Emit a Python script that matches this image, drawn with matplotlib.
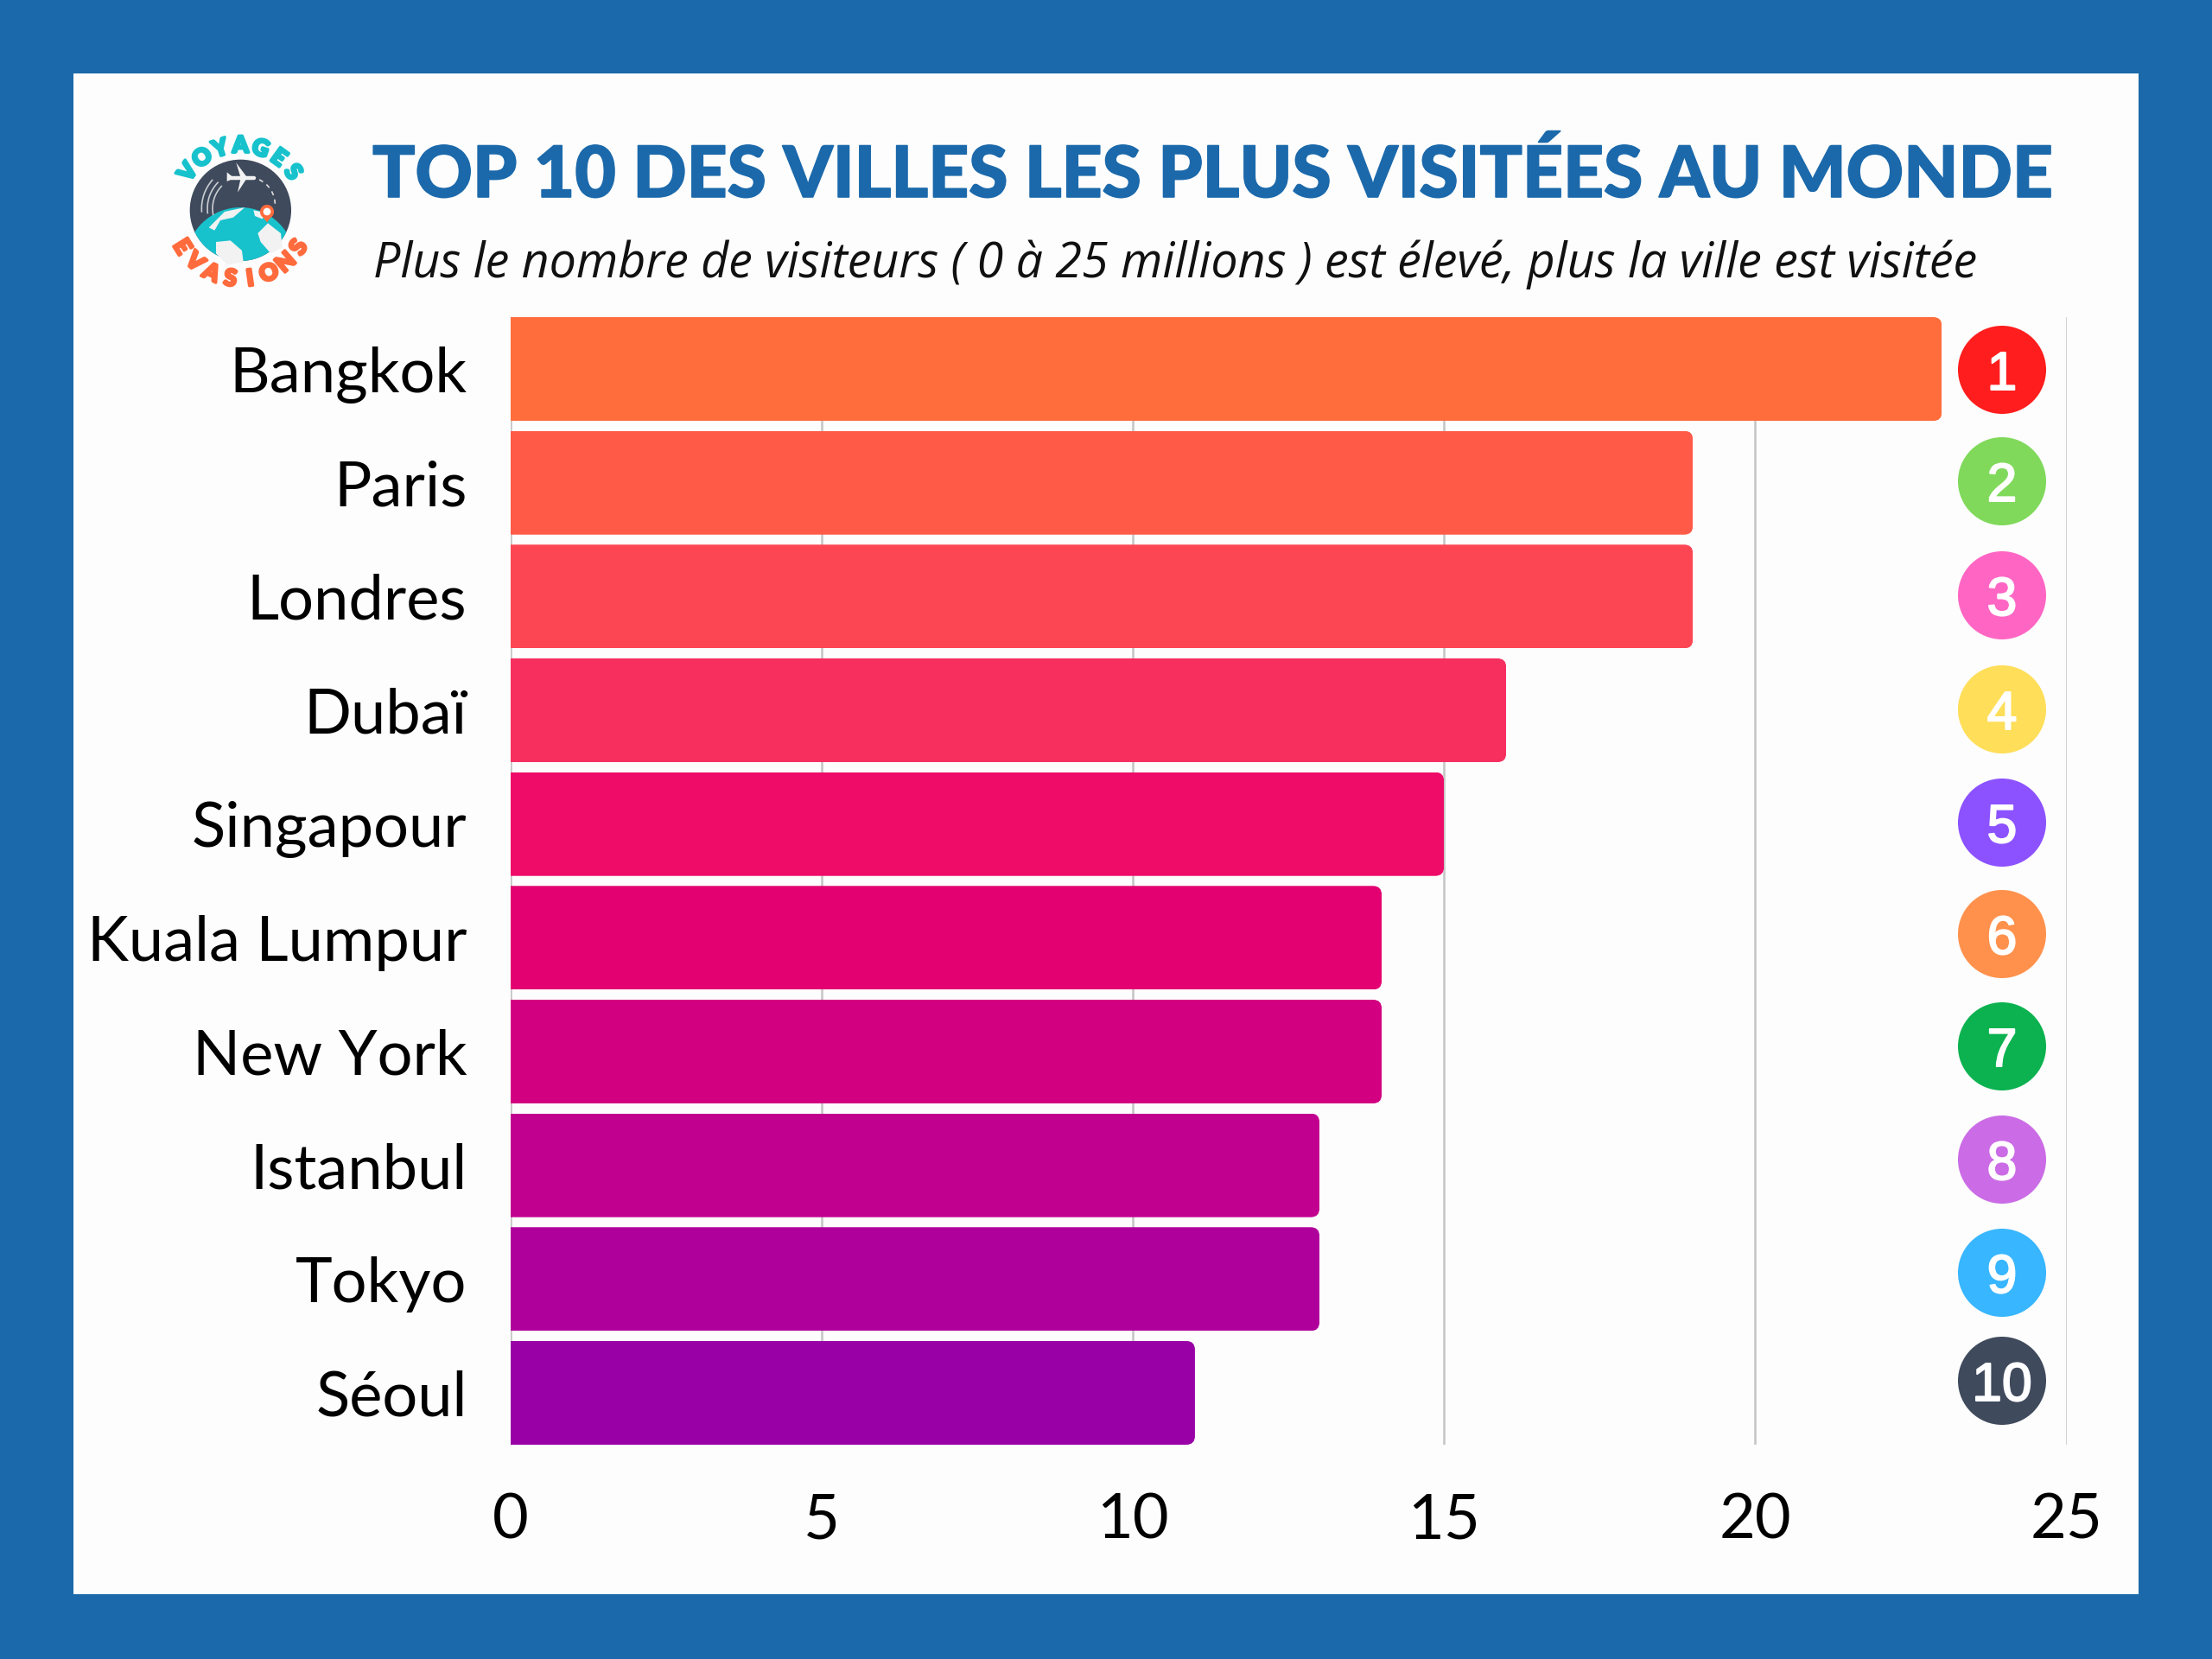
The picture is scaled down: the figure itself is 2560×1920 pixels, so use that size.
# Top 10 des villes les plus visitees
import math

import matplotlib
matplotlib.use("Agg")
import matplotlib.pyplot as plt
import matplotlib.patheffects as pe
from matplotlib.patches import Rectangle, Circle, Polygon, FancyBboxPatch, Arc, Wedge

W, H = 2560, 1920

cities = ["Bangkok", "Paris", "Londres", "Dubaï", "Singapour", "Kuala Lumpur",
          "New York", "Istanbul", "Tokyo", "Séoul"]
visitors = [23, 19, 19, 16, 15, 14, 14, 13, 13, 11]
bar_colors = ["#FF6D3D", "#FF5A48", "#FC4654", "#F72F5F", "#EF0B68",
              "#E30070", "#D20081", "#C2008F", "#B0009B", "#9900A6"]
x_ticks = [0, 5, 10, 15, 20, 25]
ranks = ["1", "2", "3", "4", "5", "6", "7", "8", "9", "10"]
rank_colors = ["#FF1D1D", "#80D95B", "#FF66C4", "#FFDE59", "#8C52FF",
               "#FF914D", "#0BB24F", "#CB6CE6", "#38B6FF", "#3F4A5C"]
rank_y = [428, 557, 689, 821, 952, 1081, 1211, 1342, 1473, 1598]

BLUE = "#1B69AB"
TEAL = "#17C2CC"
ORANGE = "#FF6B3D"
DARK = "#3F4A5C"

plt.rcParams["font.family"] = "Lato"

fig = plt.figure(figsize=(12.8, 9.6), dpi=200, facecolor=BLUE)
fig.add_artist(Rectangle((85 / W, 1 - 1845 / H), 2390 / W, 1760 / H, transform=fig.transFigure,
                         facecolor="#FDFDFD", edgecolor="none", zorder=-1))

# ------------------------------
# Bars
# ------------------------------
ax = fig.add_axes([590.5 / W, 1 - 1672 / H, 1801 / W, 1305 / H], facecolor="none")
bars = ax.barh(range(len(cities)), visitors, height=0.912, color=bar_colors, zorder=2)
for bar in bars:
    # rounded right corners only, the left part of the clip box sticks out
    clip = FancyBboxPatch((-1, bar.get_y()), bar.get_width() + 1, bar.get_height(),
                          boxstyle="round,pad=0,rounding_size=0.14", mutation_aspect=0.547,
                          transform=ax.transData)
    bar.set_clip_path(clip)

ax.set_xlim(0, 25)
ax.set_ylim(9.456, -0.456)
ax.set_xticks(x_ticks)
ax.set_yticks(range(len(cities)))
ax.set_yticklabels(cities)
ax.tick_params(axis="x", length=0, labelsize=26, pad=20, labelcolor="black")
ax.tick_params(axis="y", length=0, labelsize=26, pad=18, labelcolor="black")
ax.grid(axis="x", color="#C4C4C4", linewidth=0.9, zorder=1)
ax.set_axisbelow(True)
for side in ["top", "right", "bottom", "left"]:
    ax.spines[side].set_visible(False)

# ------------------------------
# Overlay in pixels: title, badges, logo
# ------------------------------
deco = fig.add_axes([0, 0, 1, 1], facecolor="none", zorder=3)
deco.set_xlim(0, W)
deco.set_ylim(H, 0)
deco.axis("off")

deco.text(431, 228, "TOP 10 DES VILLES LES PLUS VISITÉES AU MONDE", color=BLUE, fontsize=29.5,
          fontweight="black", ha="left", va="baseline",
          path_effects=[pe.withStroke(linewidth=0.6, foreground=BLUE)])
deco.text(432, 321, "Plus le nombre de visiteurs ( 0 à 25 millions ) est élevé, plus la ville est visitée",
          color="#111111", fontsize=20, fontstyle="italic", family="Open Sans", ha="left", va="baseline")

for rank, col, y in zip(ranks, rank_colors, rank_y):
    deco.add_patch(Circle((2317, y), 51, facecolor=col, edgecolor="none"))
    deco.text(2317, y, rank, color="white", fontsize=22.5, family="Liberation Sans",
              ha="center", va="center_baseline",
              path_effects=[pe.withStroke(linewidth=0.7, foreground="white", joinstyle="round", capstyle="round")])


# logo, coordinates taken from the 3x crop at (170, 130)
def lx(z):
    return 170 + z / 3


def ly(z):
    return 130 + z / 3


disc = Circle((lx(325), ly(340)), 176 / 3, facecolor=DARK, edgecolor="none")
deco.add_patch(disc)
globe = Circle((lx(325), ly(520)), 190 / 3, facecolor=TEAL, edgecolor="none")
deco.add_patch(globe)
globe.set_clip_path(disc)

lands = [
    [(240, 450), (290, 445), (330, 480), (335, 520), (280, 530), (240, 490)],
    [(385, 420), (420, 385), (465, 420), (470, 470), (430, 490), (395, 450)],
    [(215, 400), (270, 345), (340, 330), (300, 365), (255, 375), (235, 410)],
    [(370, 340), (420, 350), (400, 370), (375, 360)],
]
for land in lands:
    patch = Polygon([(lx(a), ly(b)) for a, b in land], facecolor="#F2F2F2", edgecolor="none")
    deco.add_patch(patch)
    patch.set_clip_path(Circle((lx(325), ly(520)), 190 / 3, transform=deco.transData))

# plane
deco.plot([lx(285), lx(372)], [ly(227), ly(227)], color="#F2F2F2", lw=1.6, solid_capstyle="round")
deco.add_patch(Polygon([(lx(310), ly(175)), (lx(345), ly(222)), (lx(325), ly(225))],
                       facecolor="#F2F2F2", edgecolor="none"))
deco.add_patch(Polygon([(lx(325), ly(232)), (lx(345), ly(232)), (lx(315), ly(278))],
                       facecolor="#F2F2F2", edgecolor="none"))
deco.add_patch(Polygon([(lx(278), ly(208)), (lx(295), ly(222)), (lx(295), ly(232)), (lx(278), ly(240))],
                       facecolor="#F2F2F2", edgecolor="none"))

# trails behind the plane and dashed route
for r, t1, t2 in [(150, 175, 222), (130, 172, 225), (112, 168, 225)]:
    deco.add_patch(Arc((lx(325) + 5, ly(340) - 2), 2 * r / 3, 2 * r / 3, theta1=t1, theta2=t2,
                       color="#C9CCD2", lw=0.6))
deco.add_patch(Arc((lx(350), ly(320)), 2 * 95 / 3, 2 * 95 / 3, theta1=-65, theta2=0,
                   color="#DDDDDD", lw=0.6, linestyle=(0, (3, 3))))

# pin
deco.add_patch(Wedge((lx(417), ly(345)), 24 / 3, 0, 360, facecolor=ORANGE, edgecolor="none"))
deco.add_patch(Polygon([(lx(396), ly(355)), (lx(438), ly(355)), (lx(417), ly(382))],
                       facecolor=ORANGE, edgecolor="none"))
deco.add_patch(Circle((lx(417), ly(345)), 13 / 3, facecolor="white", edgecolor="none"))

# curved words
for i, ch in enumerate("VOYAGES"):
    a = math.radians(-54 + 18 * i)
    deco.text(lx(325) + 75 * math.sin(a), ly(340) - 75 * math.cos(a), ch, color=TEAL, fontsize=9.5,
              fontweight="black", rotation=-math.degrees(a), rotation_mode="anchor",
              ha="center", va="center",
              path_effects=[pe.withStroke(linewidth=1.2, foreground=TEAL, joinstyle="round")])
for i, ch in enumerate("EVASIONS"):
    a = math.radians(-58 + 16.5 * i)
    deco.text(lx(325) + 80 * math.sin(a), ly(340) + 80 * math.cos(a), ch, color=ORANGE, fontsize=9.5,
              fontweight="black", rotation=math.degrees(a), rotation_mode="anchor",
              ha="center", va="center",
              path_effects=[pe.withStroke(linewidth=1.2, foreground=ORANGE, joinstyle="round")])

fig.savefig("out.png", dpi=200, facecolor=fig.get_facecolor())
